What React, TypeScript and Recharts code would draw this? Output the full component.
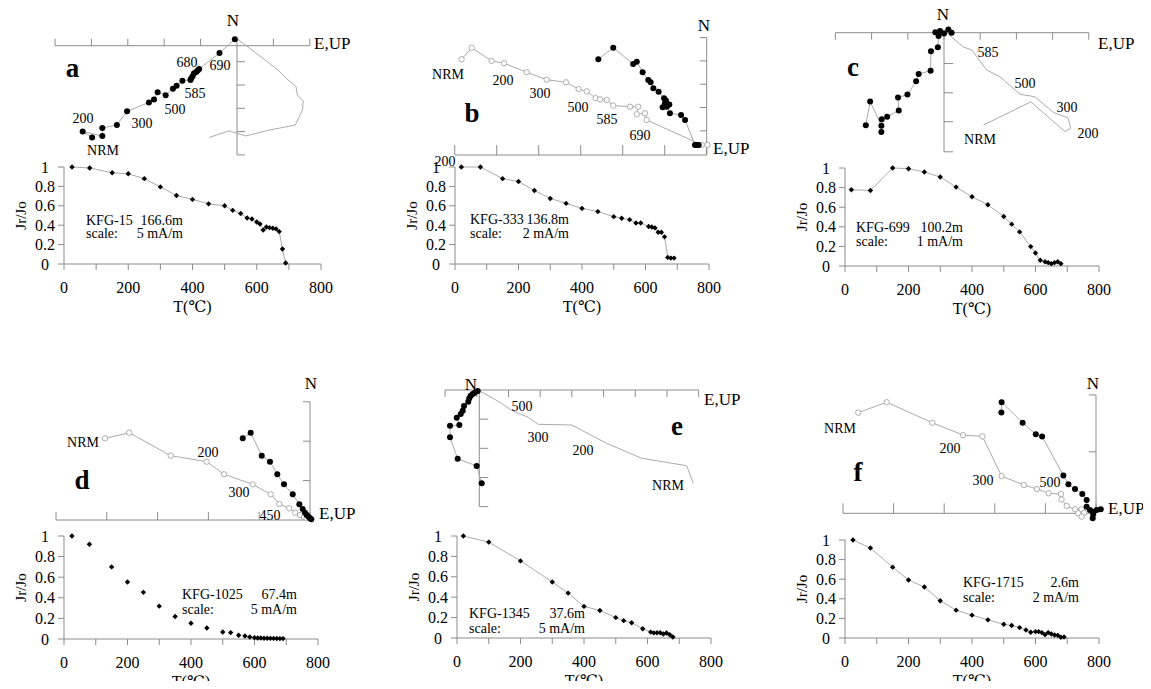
import React from 'react';
import { ScatterChart, Scatter, LineChart, Line, XAxis, YAxis, ReferenceLine } from 'recharts';

const SERIF = "'Liberation Serif', 'DejaVu Serif', 'DejaVu Sans', serif";
const AXIS_GREY = '#8c8c8c';
const TRACE_GREY = '#ababab';

type Step = { t: number; j: number };
type Pt = { x: number; y: number };

const s = (t: number, j: number): Step => ({ t, j });
const p = (x: number, y: number): Pt => ({ x, y });

// ---- thermal demagnetization curves: T (°C) vs Jr/Jo ----
const demagA: Step[] = [
  s(25, 1.0), s(80, 0.99), s(150, 0.94), s(200, 0.93), s(250, 0.88), s(300, 0.795),
  s(350, 0.706), s(400, 0.666), s(450, 0.62), s(500, 0.6), s(525, 0.553), s(550, 0.52),
  s(570, 0.474), s(585, 0.464), s(600, 0.433), s(610, 0.413), s(620, 0.35), s(630, 0.382),
  s(640, 0.375), s(650, 0.368), s(660, 0.362), s(670, 0.334), s(680, 0.154), s(690, 0.01),
];
const demagB: Step[] = [
  s(20, 1.0), s(80, 1.0), s(150, 0.88), s(200, 0.85), s(250, 0.758), s(300, 0.676),
  s(350, 0.625), s(400, 0.573), s(450, 0.54), s(500, 0.488), s(525, 0.471), s(550, 0.457),
  s(570, 0.423), s(585, 0.423), s(610, 0.386), s(620, 0.382), s(630, 0.372), s(640, 0.328),
  s(650, 0.328), s(660, 0.28), s(670, 0.068), s(680, 0.061), s(690, 0.061),
];
const demagC: Step[] = [
  s(20, 0.778), s(80, 0.771), s(150, 1.0), s(200, 0.993), s(250, 0.959), s(300, 0.908),
  s(350, 0.805), s(400, 0.706), s(450, 0.625), s(500, 0.505), s(525, 0.427), s(550, 0.348),
  s(585, 0.198), s(600, 0.133), s(615, 0.058), s(630, 0.044), s(640, 0.034), s(650, 0.024),
  s(660, 0.034), s(670, 0.044), s(680, 0.024),
];
const demagD: Step[] = [
  s(25, 1.0), s(80, 0.92), s(150, 0.7), s(200, 0.554), s(250, 0.453), s(300, 0.319),
  s(350, 0.218), s(400, 0.153), s(450, 0.107), s(500, 0.068), s(525, 0.062), s(550, 0.036),
  s(570, 0.029), s(585, 0.02), s(600, 0.013), s(610, 0.01), s(620, 0.01), s(630, 0.007),
  s(640, 0.007), s(650, 0.006), s(660, 0.006), s(670, 0.005), s(680, 0.004), s(690, 0.004),
];
const demagE: Step[] = [
  s(20, 1.0), s(100, 0.94), s(200, 0.756), s(300, 0.549), s(350, 0.44), s(400, 0.31),
  s(450, 0.27), s(500, 0.2), s(525, 0.17), s(550, 0.15), s(585, 0.09), s(610, 0.058),
  s(620, 0.05), s(630, 0.052), s(640, 0.052), s(650, 0.039), s(660, 0.049), s(670, 0.032),
  s(680, 0.01),
];
const demagF: Step[] = [
  s(25, 1.0), s(80, 0.918), s(150, 0.723), s(200, 0.592), s(250, 0.52), s(300, 0.38),
  s(350, 0.284), s(400, 0.233), s(450, 0.185), s(500, 0.14), s(525, 0.127), s(550, 0.106),
  s(570, 0.082), s(585, 0.058), s(600, 0.065), s(610, 0.065), s(620, 0.055), s(630, 0.034),
  s(640, 0.055), s(650, 0.041), s(660, 0.031), s(670, 0.027), s(680, 0.007), s(690, 0.01),
];

// ---- orthogonal projections (mA/m): solid = horizontal plane, open/trace = vertical plane ----
const horizA: Pt[] = [
  p(-19.9, -12.6), p(-21.2, -11.8), p(-18.5, -12.4), p(-18.5, -11.3), p(-16.5, -10.9),
  p(-15.1, -9.0), p(-12.1, -7.8), p(-11.4, -7.4), p(-10.9, -6.4), p(-9.8, -6.8),
  p(-8.8, -5.9), p(-8.3, -5.5), p(-7.5, -4.8), p(-6.4, -4.7), p(-6.3, -4.5),
  p(-6.1, -4.2), p(-5.9, -3.8), p(-5.6, -3.6), p(-5.4, -3.4), p(-5.2, -3.2),
  p(-2.4, -1.0), p(-0.3, 0.9),
];
const vertA: Pt[] = [
  p(-3.8, -12.6), p(-1.1, -11.7), p(1.2, -12.4), p(4.4, -11.6), p(8.0, -10.9),
  p(9.0, -8.8), p(9.1, -7.6), p(8.3, -6.8), p(8.1, -5.6), p(7.0, -4.7),
  p(5.6, -3.3), p(0.1, 0.9),
];

const horizB: Pt[] = [
  p(-5.16, 4.56), p(-4.45, 5.11), p(-3.5, 4.33), p(-3.33, 4.44), p(-3.05, 3.94),
  p(-2.78, 3.57), p(-2.67, 3.46), p(-2.54, 3.18), p(-2.29, 3.01), p(-2.03, 2.7),
  p(-1.94, 2.59), p(-1.99, 2.46), p(-1.78, 2.4), p(-2.1, 2.27), p(-1.9, 2.3),
  p(-1.75, 1.99), p(-1.22, 1.9), p(-1.03, 1.67), p(-0.56, 0.48), p(-0.46, 0.48),
  p(-0.38, 0.48),
];
const vertB: Pt[] = [
  p(-11.67, 4.56), p(-11.19, 5.11), p(-10.24, 4.48), p(-9.65, 4.37), p(-8.57, 3.94),
  p(-7.62, 3.59), p(-6.7, 3.46), p(-6.1, 3.14), p(-5.71, 3.03), p(-5.29, 2.71),
  p(-5.08, 2.65), p(-4.76, 2.62), p(-4.45, 2.35), p(-3.65, 2.3), p(-3.26, 2.3),
  p(-3.33, 1.94), p(-2.94, 1.99), p(-2.86, 1.67), p(-0.24, 0.48), p(0.03, 0.48),
];

const horizC: Pt[] = [
  p(-2.16, -2.56), p(-2.04, -1.9), p(-1.73, -2.57), p(-1.73, -2.74), p(-1.72, -2.39),
  p(-1.57, -2.32), p(-1.25, -2.15), p(-1.27, -1.79), p(-1.01, -1.71), p(-0.77, -1.34),
  p(-0.7, -1.14), p(-0.37, -1.05), p(-0.36, -0.51), p(-0.17, -0.4), p(-0.15, -0.09),
  p(-0.24, 0.01), p(-0.11, 0.05), p(0.12, 0.09), p(0.21, 0.0), p(0.0, -0.02),
];
const vertC: Pt[] = [
  p(1.09, -2.55), p(2.4, -1.91), p(3.34, -2.73), p(3.5, -2.64), p(3.43, -2.36),
  p(3.02, -2.2), p(2.51, -1.77), p(2.1, -1.7), p(1.55, -1.22), p(1.18, -1.03),
  p(0.77, -0.48), p(0.53, -0.39), p(0.07, 0.0),
];

const horizD: Pt[] = [
  p(-6.62, 8.04), p(-5.84, 8.59), p(-4.75, 6.33), p(-3.94, 5.74), p(-3.22, 4.5),
  p(-2.56, 3.51), p(-1.7, 2.53), p(-1.05, 1.55), p(-0.72, 1.08), p(-0.49, 0.72),
  p(-0.32, 0.49), p(-0.13, 0.3), p(0.0, 0.17), p(0.13, 0.07),
];
const vertD: Pt[] = [
  p(-20.18, 8.04), p(-17.79, 8.59), p(-13.71, 6.33), p(-10.17, 5.74), p(-8.46, 4.5),
  p(-5.64, 3.51), p(-3.87, 2.53), p(-3.02, 1.57), p(-2.04, 1.15), p(-1.45, 0.72),
  p(-0.98, 0.49), p(-0.59, 0.3), p(-0.32, 0.17),
];

const horizE: Pt[] = [
  p(0.38, -14.72), p(-0.41, -11.99), p(-3.41, -10.84), p(-4.62, -7.46), p(-4.62, -5.63),
  p(-3.15, -5.52), p(-3.56, -4.37), p(-2.93, -3.79), p(-2.62, -3.26), p(-2.41, -2.52),
  p(-1.74, -1.85), p(-1.58, -1.31), p(-1.36, -0.9), p(-1.04, -0.63), p(-0.73, -0.43),
  p(-0.25, -0.16),
];
const vertE: Pt[] = [
  p(33.75, -14.72), p(32.71, -11.94), p(25.62, -10.77), p(20.09, -8.41), p(14.57, -5.52),
  p(9.31, -5.41), p(7.73, -4.31), p(6.15, -3.68), p(4.84, -3.04), p(3.53, -2.1),
  p(0.11, -0.16),
];

const horizF: Pt[] = [
  p(-3.74, 3.98), p(-3.73, 4.39), p(-2.9, 3.58), p(-2.38, 3.12), p(-2.13, 3.04),
  p(-1.29, 1.49), p(-1.09, 1.15), p(-0.83, 0.96), p(-0.54, 0.76), p(-0.37, 0.53),
  p(-0.37, 0.26), p(-0.24, 0.13), p(-0.11, 0.06), p(0.03, 0.13), p(0.19, 0.16),
  p(-0.11, -0.04), p(-0.13, -0.2),
];
const vertF: Pt[] = [
  p(-9.4, 3.98), p(-8.27, 4.39), p(-6.47, 3.58), p(-5.25, 3.09), p(-4.49, 3.04),
  p(-3.73, 1.47), p(-2.85, 1.12), p(-2.34, 0.96), p(-1.87, 0.79), p(-1.38, 0.76),
  p(-1.36, 0.55), p(-1.16, 0.29), p(-0.83, 0.16), p(-0.57, 0.16), p(-0.47, 0.02),
  p(-0.7, 0.0), p(-0.57, -0.13),
];

// ---- projection axis ticks (mA/m) ----
const ticksAH = [-25, -20, -15, -10, -5, 0, 5, 10];
const ticksAV = [-2.2, -5.4, -8.6, -11.8, -15];
const ticksBH = [-12, -10, -8, -6, -4, -2, 0];
const ticksBV = [1.15, 2.26, 3.37, 4.48, 5.59];
const ticksCH = [-3, -2, -1, 0, 1, 2, 3, 4];
const ticksCV = [-0.85, -1.66, -2.46, -3.29];
const ticksDH = [-25, -20, -15, -10, -5, 0];
const ticksDV = [3.88, 7.76, 11.64];
const ticksEH = [-5.4, -0.4, 4.6, 9.6, 14.6, 19.6, 24.6, 29.6, 34.6];
const ticksEV = [-4.6, -9.2, -13.8, -18.4];
const ticksFH = [-10, -8, -6, -4, -2, 0];
const ticksFV = [2.43, 4.68];

// ---- demag axis ticks ----
const T_TICKS = [0, 100, 200, 300, 400, 500, 600, 700, 800];
const J_TICKS = [0, 0.2, 0.4, 0.6, 0.8, 1];

type ZijLayout = {
  ox: number; oy: number; k: number;
  hAxis: [number, number]; vAxis: [number, number];
  hTicks: number[]; vTicks: number[];
  hTickLen: number; vTickLen: number;
};

const solidDot = (props: any) => (
  <circle key={`s-${props.index}`} cx={props.cx} cy={props.cy} r={3} fill="#000" />
);
const openDot = (props: any) => (
  <circle key={`o-${props.index}`} cx={props.cx} cy={props.cy} r={2.7} fill="#fff" stroke="#9a9a9a" strokeWidth={0.8} />
);
const noDot = (props: any) => <g key={`n-${props.index}`} />;

const diamond = (props: any) => {
  const { cx, cy, index } = props;
  const r = 2.7;
  return (
    <path key={`dm-${index}`} d={`M${cx},${cy - r}L${cx + r},${cy}L${cx},${cy + r}L${cx - r},${cy}Z`} fill="#000" />
  );
};

// temperature labels: only every 200 °C is written
const tempTick = (props: any) => {
  const v = props.payload.value;
  if (v % 200 !== 0) return <g />;
  return (
    <text x={props.x} y={props.y} dy="0.71em" textAnchor="middle" fontSize={16} fontFamily={SERIF} fill="#000">
      {v}
    </text>
  );
};

// ratio labels are centred in their column
const ratioTick = (props: any) => (
  <text x={props.x} y={props.y} dy="0.35em" textAnchor="middle" fontSize={16} fontFamily={SERIF} fill="#000">
    {String(props.payload.value)}
  </text>
);

function Zijderveld({ layout, solid, open, trace }: { layout: ZijLayout; solid: Pt[]; open?: Pt[]; trace?: Pt[] }) {
  const { ox, oy, k, hAxis, vAxis, hTicks, vTicks } = layout;
  const ht = layout.hTickLen / k;
  const vt = layout.vTickLen / k;
  const all = [...solid, ...(open ?? []), ...(trace ?? [])];
  const xs = all.map((d) => d.x).concat(hAxis, [0, vt]);
  const ys = all.map((d) => d.y).concat(vAxis, [0, ht]);
  const pad = 8;
  const left = Math.floor(ox + Math.min(...xs) * k - pad);
  const right = Math.ceil(ox + Math.max(...xs) * k + pad);
  const top = Math.floor(oy - Math.max(...ys) * k - pad);
  const bottom = Math.ceil(oy - Math.min(...ys) * k + pad);
  const xDomain = [(left - ox) / k, (right - ox) / k];
  const yDomain = [(oy - bottom) / k, (oy - top) / k];
  const line = { stroke: TRACE_GREY, strokeWidth: 1 };

  return (
    <div style={{ position: 'absolute', left, top }}>
      <ScatterChart width={right - left} height={bottom - top} margin={{ top: 0, right: 0, bottom: 0, left: 0 }}>
        <XAxis type="number" dataKey="x" domain={xDomain} allowDataOverflow hide />
        <YAxis type="number" dataKey="y" domain={yDomain} allowDataOverflow hide />
        <ReferenceLine segment={[{ x: hAxis[0], y: 0 }, { x: hAxis[1], y: 0 }]} stroke={AXIS_GREY} strokeWidth={1} />
        <ReferenceLine segment={[{ x: 0, y: vAxis[0] }, { x: 0, y: vAxis[1] }]} stroke={AXIS_GREY} strokeWidth={1} />
        {hTicks.map((t) => (
          <ReferenceLine key={`h${t}`} segment={[{ x: t, y: 0 }, { x: t, y: ht }]} stroke={AXIS_GREY} strokeWidth={1} />
        ))}
        {vTicks.map((t) => (
          <ReferenceLine key={`v${t}`} segment={[{ x: 0, y: t }, { x: vt, y: t }]} stroke={AXIS_GREY} strokeWidth={1} />
        ))}
        {trace && <Scatter data={trace} line={line} lineType="joint" shape={noDot} isAnimationActive={false} />}
        {open && <Scatter data={open} line={line} lineType="joint" shape={openDot} isAnimationActive={false} />}
        <Scatter data={solid} line={line} lineType="joint" shape={solidDot} isAnimationActive={false} />
      </ScatterChart>
    </div>
  );
}

type Box = { left: number; top: number; width: number; height: number };

function DemagCurve({ data, box, joined = true }: { data: Step[]; box: Box; joined?: boolean }) {
  const yAxisW = 48;
  const xAxisH = 40;
  const mTop = 10;
  const mRight = 16;
  return (
    <div style={{ position: 'absolute', left: box.left - yAxisW, top: box.top - mTop }}>
      <LineChart
        width={box.width + yAxisW + mRight}
        height={box.height + mTop + xAxisH}
        data={data}
        margin={{ top: mTop, right: mRight, bottom: 0, left: 0 }}
      >
        <XAxis
          dataKey="t"
          type="number"
          domain={[0, 800]}
          ticks={T_TICKS}
          interval={0}
          height={xAxisH}
          stroke={AXIS_GREY}
          tickSize={6}
          tickMargin={12}
          tick={tempTick}
        />
        <YAxis
          type="number"
          domain={[0, 1]}
          ticks={J_TICKS}
          interval={0}
          width={yAxisW}
          stroke={AXIS_GREY}
          tickSize={6}
          tickMargin={13}
          tick={ratioTick}
        />
        <Line
          dataKey="j"
          stroke={joined ? TRACE_GREY : 'none'}
          strokeWidth={1}
          dot={diamond}
          isAnimationActive={false}
        />
      </LineChart>
    </div>
  );
}

type Txt = { x: number; y: number; text: string; size?: number; anchor?: 'start' | 'middle' | 'end' };

const panels = [
  {
    id: 'a',
    zij: { ox: 237, oy: 45.7, k: 7.28, hAxis: [-25, 10], vAxis: [-15, 0], hTicks: ticksAH, vTicks: ticksAV, hTickLen: 7, vTickLen: 8 } as ZijLayout,
    solid: horizA, trace: vertA,
    demag: demagA, box: { left: 64, top: 167, width: 257, height: 97 },
    letter: { x: 72.5, y: 77 },
    labels: [
      { x: 233, y: 20, text: 'N', size: 17 }, { x: 314, y: 43, text: 'E,UP', size: 17, anchor: 'start' },
      { x: 187, y: 62, text: '680' }, { x: 220, y: 65, text: '690' }, { x: 195, y: 93, text: '585' },
      { x: 175, y: 109, text: '500' }, { x: 142, y: 123, text: '300' }, { x: 83, y: 118, text: '200' },
      { x: 103, y: 150, text: 'NRM' },
    ] as Txt[],
    info: { x: 86, right: 183, y1: 220, y2: 233, name: 'KFG-15', depth: '166.6m', scale: '5 mA/m' },
  },
  {
    id: 'b',
    zij: { ox: 706.7, oy: 155, k: 21, hAxis: [-12, 0], vAxis: [0, 5.59], hTicks: ticksBH, vTicks: ticksBV, hTickLen: 10, vTickLen: -7 } as ZijLayout,
    solid: horizB, open: vertB,
    demag: demagB, box: { left: 455, top: 167, width: 254, height: 97 },
    letter: { x: 472, y: 122 },
    labels: [
      { x: 704, y: 25, text: 'N', size: 17 }, { x: 713, y: 148, text: 'E,UP', size: 17, anchor: 'start' },
      { x: 448, y: 74, text: 'NRM' }, { x: 503, y: 80, text: '200' }, { x: 540, y: 93, text: '300' },
      { x: 578, y: 107, text: '500' }, { x: 607, y: 119, text: '585' }, { x: 640, y: 135, text: '690' },
      { x: 445, y: 161, text: '200' },
    ] as Txt[],
    info: { x: 470, right: 569, y1: 219, y2: 233, name: 'KFG-333', depth: '136.8m', scale: '2 mA/m' },
  },
  {
    id: 'c',
    zij: { ox: 944, oy: 32.7, k: 36.2, hAxis: [-3, 4], vAxis: [-3.29, 0], hTicks: ticksCH, vTicks: ticksCV, hTickLen: -7, vTickLen: 9 } as ZijLayout,
    solid: horizC, trace: vertC,
    demag: demagC, box: { left: 845, top: 168, width: 254, height: 98 },
    letter: { x: 853, y: 76 },
    labels: [
      { x: 943, y: 14, text: 'N', size: 17 }, { x: 1098, y: 43, text: 'E,UP', size: 17, anchor: 'start' },
      { x: 988, y: 52, text: '585' }, { x: 1025, y: 83, text: '500' }, { x: 1067, y: 107, text: '300' },
      { x: 1088, y: 133, text: '200' }, { x: 980, y: 139, text: 'NRM' },
    ] as Txt[],
    info: { x: 856, right: 963, y1: 227, y2: 241, name: 'KFG-699', depth: '100.2m', scale: '1 mA/m' },
  },
  {
    id: 'd',
    zij: { ox: 310, oy: 520, k: 10.16, hAxis: [-25, 0], vAxis: [0, 11.64], hTicks: ticksDH, vTicks: ticksDV, hTickLen: 8, vTickLen: -7 } as ZijLayout,
    solid: horizD, open: vertD,
    demag: demagD, box: { left: 64, top: 536, width: 254, height: 103 }, joined: false,
    letter: { x: 82, y: 489 },
    labels: [
      { x: 311, y: 383, text: 'N', size: 17 }, { x: 319, y: 513, text: 'E,UP', size: 17, anchor: 'start' },
      { x: 83, y: 442, text: 'NRM' }, { x: 208, y: 452, text: '200' }, { x: 239, y: 492, text: '300' },
      { x: 270, y: 515, text: '450' },
    ] as Txt[],
    info: { x: 182, right: 297, y1: 594, y2: 609, name: 'KFG-1025', depth: '67.4m', scale: '5 mA/m' },
  },
  {
    id: 'e',
    zij: { ox: 479.3, oy: 390, k: 6.34, hAxis: [-5.4, 34.6], vAxis: [-18.4, 0], hTicks: ticksEH, vTicks: ticksEV, hTickLen: -7, vTickLen: 9 } as ZijLayout,
    solid: horizE, trace: vertE,
    demag: demagE, box: { left: 457, top: 536, width: 254, height: 102 },
    letter: { x: 677, y: 435 },
    labels: [
      { x: 471, y: 384, text: 'N', size: 17 }, { x: 704, y: 399, text: 'E,UP', size: 17, anchor: 'start' },
      { x: 522, y: 406, text: '500' }, { x: 538, y: 437, text: '300' }, { x: 583, y: 450, text: '200' },
      { x: 668, y: 485, text: 'NRM' },
    ] as Txt[],
    info: { x: 469, right: 585, y1: 613, y2: 628, name: 'KFG-1345', depth: '37.6m', scale: '5 mA/m' },
  },
  {
    id: 'f',
    zij: { ox: 1096, oy: 513.3, k: 25.3, hAxis: [-10, 0], vAxis: [0, 4.68], hTicks: ticksFH, vTicks: ticksFV, hTickLen: 10, vTickLen: -7 } as ZijLayout,
    solid: horizF, open: vertF,
    demag: demagF, box: { left: 845, top: 540, width: 254, height: 98 },
    letter: { x: 858, y: 481 },
    labels: [
      { x: 1093, y: 383, text: 'N', size: 17 }, { x: 1108, y: 508, text: 'E,UP', size: 17, anchor: 'start' },
      { x: 840, y: 428, text: 'NRM' }, { x: 950, y: 448, text: '200' }, { x: 983, y: 480, text: '300' },
      { x: 1050, y: 482, text: '500' },
    ] as Txt[],
    info: { x: 963, right: 1079, y1: 582, y2: 597, name: 'KFG-1715', depth: '2.6m', scale: '2 mA/m' },
  },
];

export default function App() {
  return (
    <div
      style={{
        position: 'relative', width: 1151, height: 689, margin: -8,
        background: '#fff', overflow: 'hidden', fontFamily: SERIF,
      }}
    >
      {panels.map((pn) => (
        <React.Fragment key={pn.id}>
          <Zijderveld layout={pn.zij} solid={pn.solid} open={(pn as any).open} trace={(pn as any).trace} />
          <DemagCurve data={pn.demag} box={pn.box} joined={(pn as any).joined ?? true} />
        </React.Fragment>
      ))}
      <svg width={1151} height={689} style={{ position: 'absolute', left: 0, top: 0, pointerEvents: 'none' }} fontFamily={SERIF}>
        {panels.map((pn) => {
          const b = pn.box;
          const midY = b.top + b.height / 2;
          const axisY = b.top + b.height;
          const yLabelX = b.left - 43;
          return (
            <g key={pn.id}>
              <text x={pn.letter.x} y={pn.letter.y} fontSize={27} fontWeight="bold" textAnchor="middle">{pn.id}</text>
              {pn.labels.map((l, i) => (
                <text key={i} x={l.x} y={l.y} fontSize={l.size ?? 14} textAnchor={l.anchor ?? 'middle'} dominantBaseline="central">
                  {l.text}
                </text>
              ))}
              <text x={pn.info.x} y={pn.info.y1} fontSize={14} dominantBaseline="central">{pn.info.name}</text>
              <text x={pn.info.right} y={pn.info.y1} fontSize={14} textAnchor="end" dominantBaseline="central">{pn.info.depth}</text>
              <text x={pn.info.x} y={pn.info.y2} fontSize={14} dominantBaseline="central">scale:</text>
              <text x={pn.info.right} y={pn.info.y2} fontSize={14} textAnchor="end" dominantBaseline="central">{pn.info.scale}</text>
              <text x={yLabelX} y={midY} fontSize={15} textAnchor="middle" dominantBaseline="central" transform={`rotate(-90 ${yLabelX} ${midY})`}>
                Jr/Jo
              </text>
              <text x={b.left + b.width / 2} y={axisY + 42} fontSize={16} textAnchor="middle" dominantBaseline="central">
                T(℃)
              </text>
            </g>
          );
        })}
      </svg>
    </div>
  );
}
